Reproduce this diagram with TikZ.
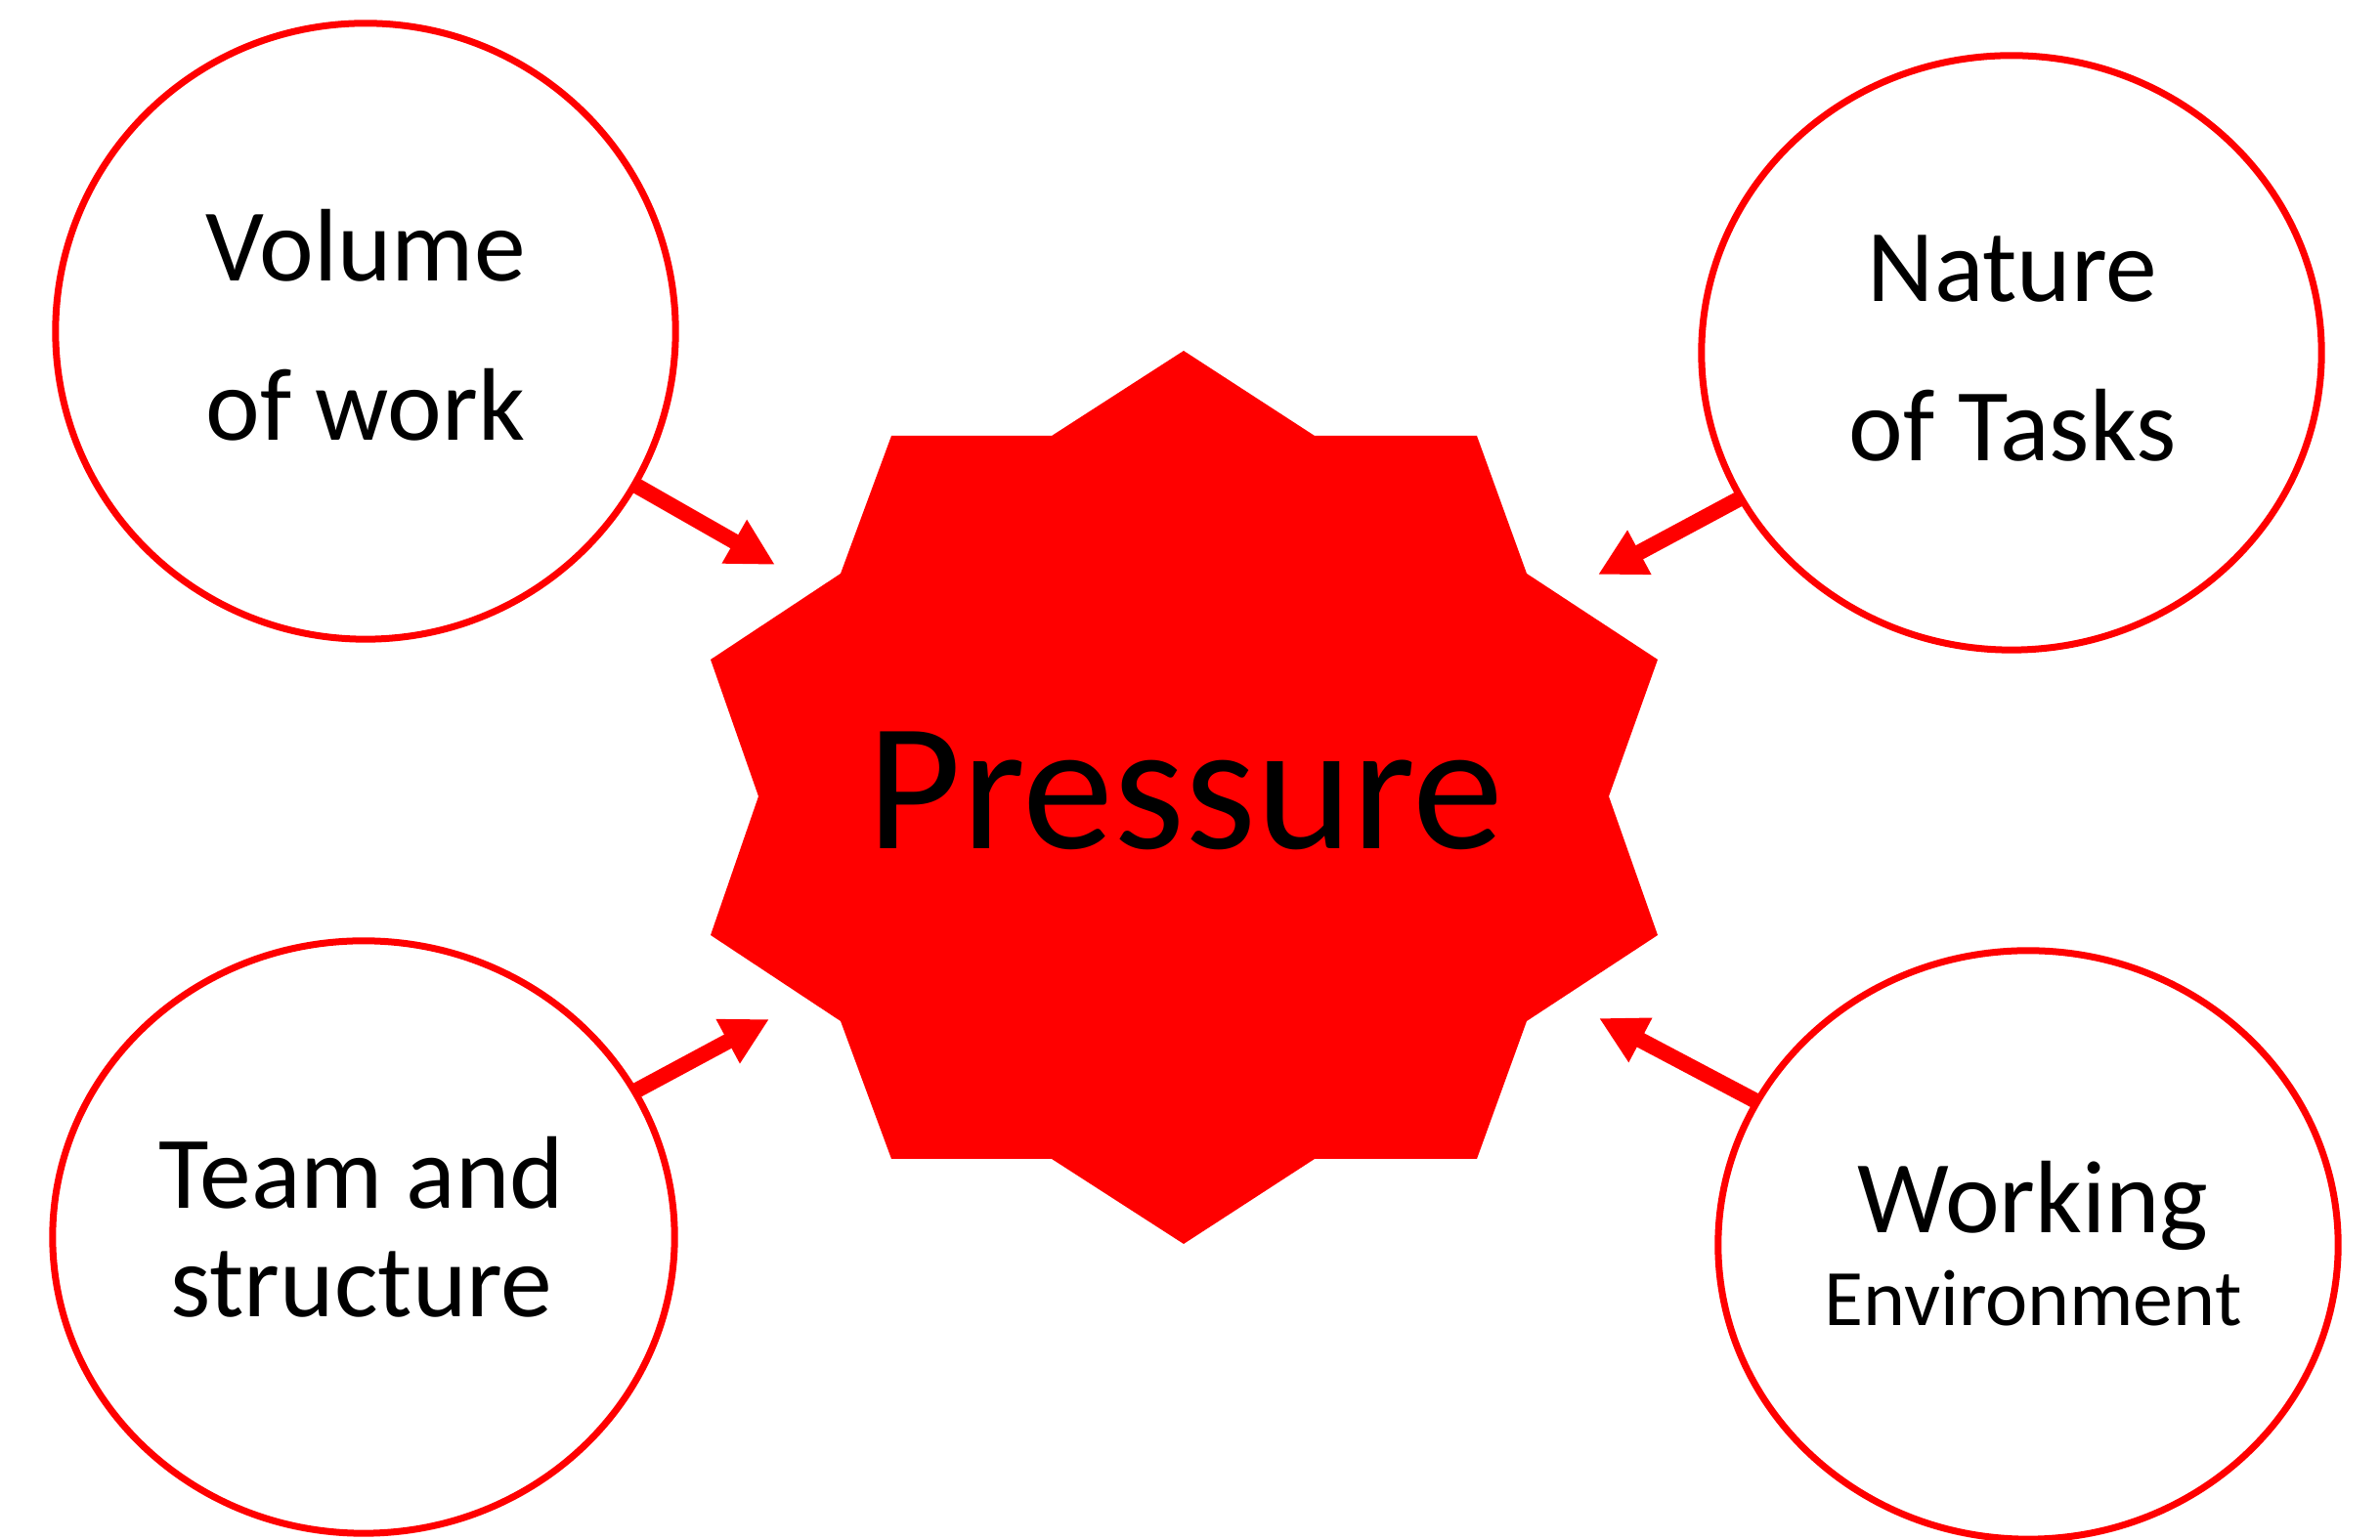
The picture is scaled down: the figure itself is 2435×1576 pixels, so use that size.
\documentclass[tikz,border=0pt]{standalone}
\usepackage{fontspec}
\setmainfont{Carlito}
\usetikzlibrary{shapes.geometric,arrows.meta}
\definecolor{pred}{RGB}{255,0,0}
\begin{document}
\begin{tikzpicture}[x=0.01cm,y=0.01cm,
  circ/.style={ellipse, draw=pred, line width=0.7mm, inner sep=0pt, outer sep=0pt},
  lbl/.style={anchor=base, inner sep=0pt, font=\fontsize{30}{36}\selectfont},
  small/.style={lbl, font=\fontsize{23.3}{28}\selectfont},
  big/.style={lbl, font=\fontsize{53}{60}\selectfont},
  arr/.style={draw=pred, line width=1.6mm, -{Triangle[length=4.8mm,width=4.8mm]}}]
\useasboundingbox (0,0) rectangle (2435,1576);
% central star
\fill[pred] (1211,1217) -- (1345,1130) -- (1511,1130) -- (1562,989) -- (1696,901)
  -- (1646,761) -- (1696,619) -- (1562,531) -- (1511,390) -- (1345,390)
  -- (1211,303) -- (1076,390) -- (912,390) -- (860,531) -- (727,619)
  -- (776,761) -- (727,901) -- (860,989) -- (912,1130) -- (1076,1130) -- cycle;
\node[big] (pres) at (1213,707) {Pressure};
% circles
\node[circ, minimum width=6.34cm, minimum height=6.30cm] (vol) at (374,1237) {};
\node[circ, minimum width=6.34cm, minimum height=6.08cm] (nat) at (2058,1215) {};
\node[circ, minimum width=6.36cm, minimum height=6.06cm] (team) at (372,310) {};
\node[circ, minimum width=6.34cm, minimum height=6.02cm] (work) at (2075,302) {};
% labels
\node[lbl] (vol1) at (374,1288) {Volume};
\node[lbl] (vol2) at (374,1125) {of work};
\node[lbl] (nat1) at (2059,1267) {Nature};
\node[lbl] (nat2) at (2059,1104) {of Tasks};
\node[lbl] (team1) at (370,339) {Team and};
\node[lbl] (team2) at (370,228) {structure};
\node[lbl] (work1) at (2080,314) {Working};
\node[small] (work2) at (2080,219) {Environment};
% arrow tips
\coordinate (t1) at (793,998);
\coordinate (t2) at (1635,988);
\coordinate (t3) at (787,533);
\coordinate (t4) at (1636,534);
\draw[arr] (vol) -- (t1);
\draw[arr] (nat) -- (t2);
\draw[arr] (team) -- (t3);
\draw[arr] (work) -- (t4);
\end{tikzpicture}
\end{document}
